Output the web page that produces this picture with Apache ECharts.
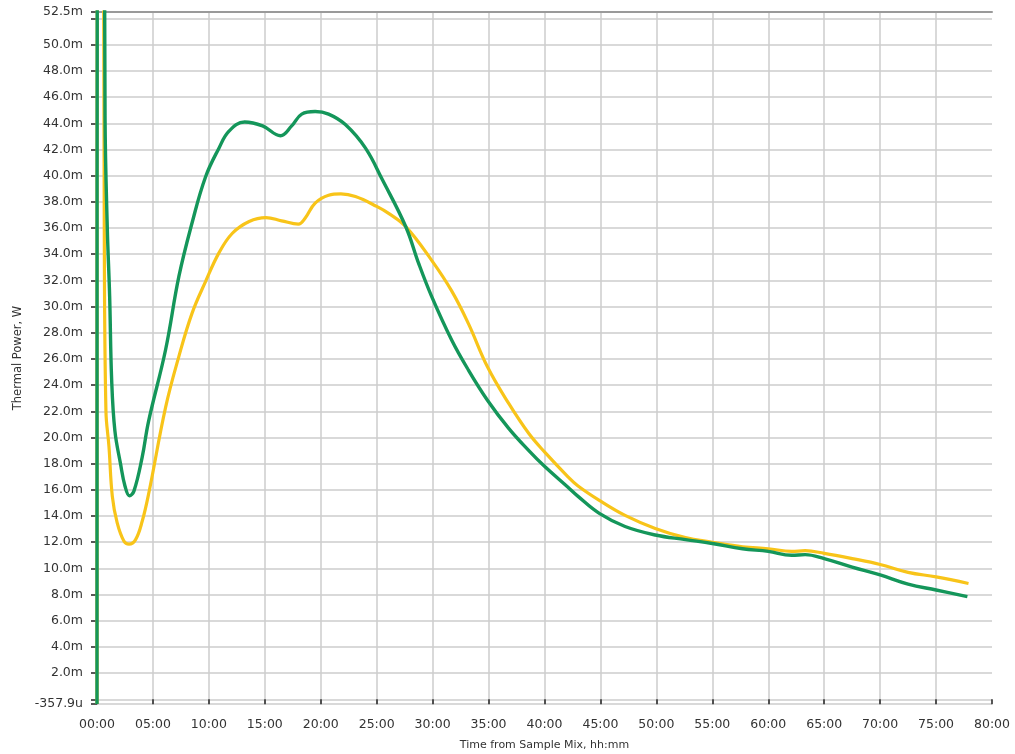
<!DOCTYPE html>
<html>
<head>
<meta charset="utf-8">
<script src="https://cdn.jsdelivr.net/npm/echarts@6/dist/echarts.min.js"></script>
<style>
html,body{margin:0;padding:0;background:#fff;}
#chart{width:1015px;height:754px;}
</style>
</head>
<body>
<div id="chart"></div>
<script>
// Time in hours, thermal power in mW
var greenTime  = [0, 0.05, 0.6, 0.72, 0.92, 1.13, 1.31, 1.6, 2.1, 2.5, 2.9, 3.3, 4.04, 4.6, 6.13, 7.32, 8.5, 9.7, 10.9, 11.8, 13.2, 14.8, 16.4, 17.4, 18.3, 19.5, 20.7, 22.2, 24.0, 25.5, 27.6, 28.75, 29.9, 31.7, 33.2, 34.9, 36.8, 38.6, 40.0, 42.1, 43.0, 44.9, 47.2, 49.9, 52.6, 55.0, 57.7, 60.0, 62.1, 63.3, 65.0, 67.5, 70.0, 72.5, 75.0, 77.8];
var greenPower = [-0.3579, 80, 80, 44.3, 36, 30.8, 24.4, 20.5, 18.0, 16.3, 15.55, 15.9, 18.5, 21.2, 26.7, 32.3, 36.4, 39.9, 42.1, 43.4, 44.1, 43.8, 43.05, 43.8, 44.7, 44.9, 44.7, 43.9, 42.1, 39.7, 36.1, 33.3, 30.8, 27.45, 25.15, 22.85, 20.7, 19.0, 17.8, 16.2, 15.5, 14.2, 13.2, 12.55, 12.2, 11.9, 11.5, 11.3, 11.0, 11.05, 10.75, 10.1, 9.5, 8.8, 8.35, 7.85];

var yellowTime  = [0, 0.05, 0.5, 0.65, 0.8, 1.07, 1.37, 1.8, 2.4, 2.86, 3.45, 4.04, 4.64, 6.13, 7.32, 8.5, 9.7, 10.9, 12.1, 13.6, 15.1, 16.5, 18.0, 18.6, 19.5, 20.7, 21.8, 23.1, 25.0, 26.1, 27.6, 29.9, 31.7, 33.2, 34.9, 36.8, 38.6, 40.0, 42.1, 43.0, 44.9, 47.2, 49.9, 52.6, 55.0, 57.7, 60.0, 62.1, 63.3, 65.0, 67.5, 70.0, 72.5, 75.0, 77.9];
var yellowPower = [-0.3579, 80, 80, 36, 22, 19.3, 15.5, 13.5, 12.1, 11.85, 12.2, 13.6, 15.8, 22.3, 26.2, 29.5, 31.9, 34.1, 35.6, 36.5, 36.8, 36.55, 36.3, 36.75, 37.9, 38.5, 38.6, 38.4, 37.65, 37.1, 36.1, 33.55, 31.2, 28.7, 25.4, 22.6, 20.3, 18.9, 17.0, 16.3, 15.2, 14.05, 13.05, 12.35, 12.0, 11.65, 11.5, 11.3, 11.35, 11.15, 10.75, 10.3, 9.7, 9.35, 8.85];

var yMin = -0.3579, yMax = 52.5;
var yTickValues  = [-0.3579, 0, 2, 4, 6, 8, 10, 12, 14, 16, 18, 20, 22, 24, 26, 28, 30, 32, 34, 36, 38, 40, 42, 44, 46, 48, 50, 52, 52.5];
var yLabelValues = [-0.3579, 2, 4, 6, 8, 10, 12, 14, 16, 18, 20, 22, 24, 26, 28, 30, 32, 34, 36, 38, 40, 42, 44, 46, 48, 50, 52.5];
var xMin = 0, xMax = 80, xStep = 5;

function zip(a, b) { return a.map(function (v, i) { return [v, b[i]]; }); }
function pad2(n) { n = Math.round(n); return (n < 10 ? '0' : '') + n; }

var font = 'DejaVu Sans';
var chart = echarts.init(document.getElementById('chart'), null, {renderer: 'canvas'});
chart.setOption({
  backgroundColor: '#ffffff',
  animation: false,
  grid: {left: 97, right: 23, top: 12, bottom: 50, containLabel: false, outerBoundsMode: 'none'},
  xAxis: [{
    type: 'value', min: xMin, max: xMax, interval: xStep, offset: 4,
    name: 'Time from Sample Mix, hh:mm', nameLocation: 'middle', nameGap: 32,
    nameTextStyle: {fontFamily: font, fontSize: 11, color: '#333'},
    axisLine: {show: false},
    axisTick: {show: true, length: 5, lineStyle: {color: '#222', width: 1.5}},
    axisLabel: {margin: 10, fontFamily: font, fontSize: 12.5, color: '#333',
      formatter: function (v) { return pad2(v) + ':00'; }},
    splitLine: {show: true, showMaxLine: false, lineStyle: {color: '#cdcdcd', width: 1.5}}
  }, {
    type: 'value', min: xMin, max: xMax, position: 'top',
    axisLine: {show: true, lineStyle: {color: '#9a9a9a', width: 2}},
    axisTick: {show: false}, axisLabel: {show: false}, splitLine: {show: false}
  }],
  yAxis: {
    type: 'value', min: yMin, max: yMax, offset: 4,
    name: 'Thermal Power, W', nameLocation: 'middle', nameGap: 65, nameRotate: 90,
    nameTextStyle: {fontFamily: font, fontSize: 11.5, color: '#333'},
    axisLine: {show: false},
    axisTick: {show: true, length: 6, customValues: yTickValues, lineStyle: {color: '#222', width: 1.5}},
    axisLabel: {margin: 10, fontFamily: font, fontSize: 12.5, color: '#333', customValues: yLabelValues,
      formatter: function (v) {
        if (v < 0) return (v * 1000).toFixed(1) + 'u';
        return v.toFixed(1) + 'm';
      }},
    splitLine: {show: true, lineStyle: {color: '#cdcdcd', width: 1.5}}
  },
  series: [{
    type: 'line', name: 'yellow', data: zip(yellowTime, yellowPower),
    showSymbol: false, smooth: 0.4,
    lineStyle: {color: '#f8c419', width: 3.2}, itemStyle: {color: '#f8c419'}, z: 3
  }, {
    type: 'line', name: 'green', data: zip(greenTime, greenPower),
    showSymbol: false, smooth: 0.4,
    lineStyle: {color: '#14965a', width: 3.4}, itemStyle: {color: '#14965a'}, z: 4
  }]
});
</script>
</body>
</html>
